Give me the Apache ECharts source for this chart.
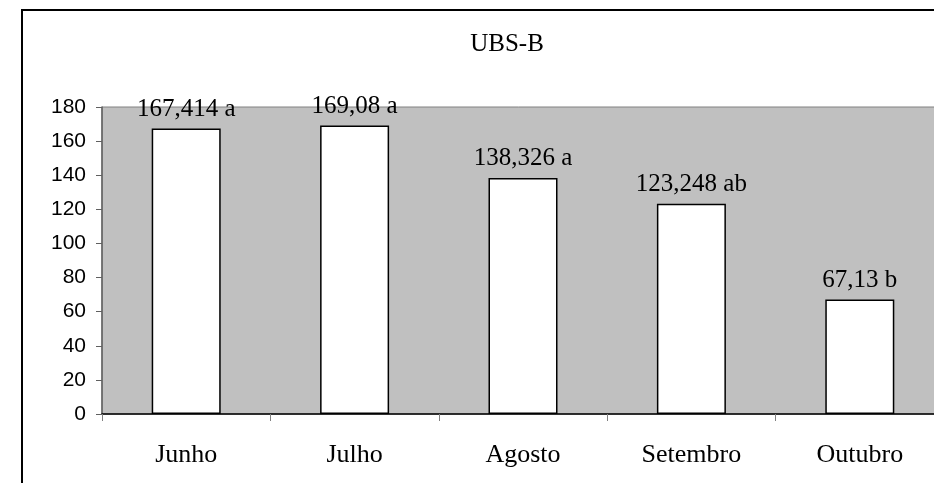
<!DOCTYPE html>
<html>
<head>
<meta charset="utf-8">
<script src="https://cdn.jsdelivr.net/npm/echarts@6/dist/echarts.min.js"></script>
<style>
  html, body { margin: 0; padding: 0; background: #fff; }
  #chart { width: 934px; height: 483px; }
</style>
</head>
<body>
<div id="chart"></div>
<script>
// Monthly means with significance letters
const months = ['Junho', 'Julho', 'Agosto', 'Setembro', 'Outubro'];
const means = [167.414, 169.08, 138.326, 123.248, 67.13];
const groups = ['a', 'a', 'a', 'ab', 'b'];
const yTicks = [0, 20, 40, 60, 80, 100, 120, 140, 160, 180];

const serif = '"Liberation Serif", "Times New Roman", serif';
const sans = '"Liberation Sans", Arial, sans-serif';

const chart = echarts.init(document.getElementById('chart'), null, { renderer: 'canvas' });

chart.setOption({
  animation: false,
  backgroundColor: '#ffffff',
  title: {
    text: 'UBS-B',
    left: 502,
    textAlign: 'center',
    top: 27,
    textStyle: { fontFamily: serif, fontSize: 25, fontWeight: 'normal', color: '#000' }
  },
  graphic: [{
    type: 'rect',
    shape: { x: 22, y: 10, width: 940, height: 520 },
    style: { fill: 'none', stroke: '#000', lineWidth: 2 },
    z: 100
  }],
  grid: {
    left: 102,
    top: 107,
    bottom: 69,
    width: 842,
    outerBoundsMode: 'none',
    containLabel: false,
    show: true,
    backgroundColor: '#C0C0C0',
    borderColor: '#808080',
    borderWidth: 1
  },
  xAxis: {
    type: 'category',
    data: months,
    axisLine: { show: true, lineStyle: { color: '#000', width: 1.5 } },
    axisTick: { show: true, alignWithLabel: false, length: 7, lineStyle: { color: '#808080' } },
    axisLabel: { margin: 28, fontFamily: serif, fontSize: 26, color: '#000' },
    splitLine: { show: false }
  },
  yAxis: {
    type: 'value',
    min: yTicks[0],
    max: yTicks[yTicks.length - 1],
    interval: yTicks[1] - yTicks[0],
    axisLine: { show: true, lineStyle: { color: '#606060', width: 1.5 } },
    axisTick: { show: true, length: 6, lineStyle: { color: '#606060' } },
    axisLabel: { margin: 16, fontFamily: sans, fontSize: 21, color: '#000' },
    splitLine: { show: false }
  },
  series: [{
    type: 'bar',
    data: means,
    barWidth: 69,
    itemStyle: { color: '#ffffff', borderColor: '#000', borderWidth: 1.5 },
    label: {
      show: true,
      position: 'top',
      distance: 7,
      fontFamily: serif,
      fontSize: 25,
      color: '#000',
      formatter: p => String(p.value).replace('.', ',') + ' ' + groups[p.dataIndex]
    }
  }]
});
</script>
</body>
</html>
